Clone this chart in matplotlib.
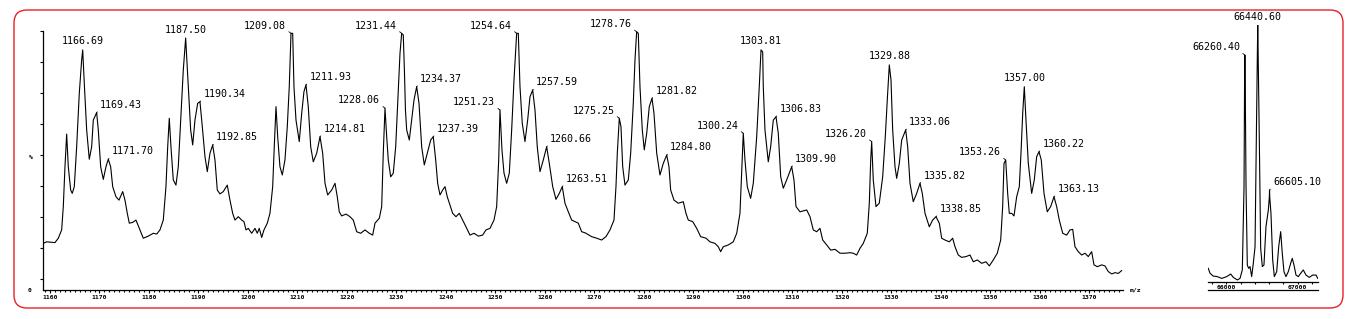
import numpy as np
import matplotlib
matplotlib.use("Agg")
import matplotlib.pyplot as plt
from matplotlib.patches import FancyBboxPatch
from matplotlib.transforms import IdentityTransform
from matplotlib.ticker import MultipleLocator

# espectro m/z
mz = [1158.65, 1159.33, 1161.01, 1161.68, 1162.36, 1162.69, 1163.03, 1163.37, 1163.70, 1164.18,
      1164.50, 1164.91, 1165.39, 1165.92, 1166.40, 1166.61, 1166.93, 1167.41, 1167.94, 1168.42,
      1168.75, 1169.43, 1169.76, 1170.24, 1170.77, 1171.31, 1171.78, 1172.26, 1172.67, 1173.33,
      1173.94, 1174.69, 1175.15, 1175.62, 1176.02, 1176.71, 1177.37, 1178.04, 1178.85, 1179.86,
      1180.87, 1181.56, 1182.22, 1182.89, 1183.43, 1183.78, 1184.10, 1184.44, 1184.91, 1185.45,
      1185.92, 1186.40, 1186.93, 1187.41, 1187.94, 1188.42, 1188.83, 1189.29, 1189.84, 1190.30,
      1190.77, 1191.31, 1191.78, 1192.32, 1192.87, 1193.33, 1193.80, 1194.34, 1195.01, 1195.82,
      1196.36, 1196.91, 1197.37, 1198.04, 1198.73, 1199.19, 1199.60, 1200.06, 1200.75, 1201.41,
      1201.88, 1202.28, 1202.77, 1203.23, 1203.90, 1204.44, 1204.99, 1205.31, 1205.66, 1206.00,
      1206.46, 1206.93, 1207.47, 1207.94, 1208.34, 1208.69, 1209.03, 1209.29, 1209.70, 1210.36,
      1210.85, 1211.31, 1211.72, 1212.18, 1212.67, 1213.19, 1213.88, 1214.55, 1215.09, 1215.56,
      1216.10, 1216.91, 1217.58, 1218.04, 1218.44, 1218.93, 1219.80, 1220.61, 1221.27, 1221.96,
      1222.77, 1223.64, 1224.51, 1225.19, 1225.66, 1226.53, 1227.01, 1227.33, 1227.68, 1228.02,
      1228.34, 1228.83, 1229.35, 1229.84, 1230.24, 1230.71, 1231.05, 1231.37, 1231.60, 1231.81,
      1232.06, 1232.59, 1233.07, 1233.54, 1234.08, 1234.55, 1235.09, 1235.62, 1236.22, 1236.91,
      1237.43, 1237.92, 1238.32, 1238.79, 1239.33, 1239.80, 1240.26, 1240.81, 1241.35, 1242.02,
      1242.69, 1243.37, 1244.04, 1244.85, 1245.66, 1246.53, 1247.41, 1248.08, 1248.89, 1249.70,
      1250.24, 1250.65, 1250.91, 1251.31, 1251.72, 1252.26, 1252.79, 1253.27, 1253.74, 1254.28,
      1254.61, 1254.95, 1255.41, 1255.96, 1256.50, 1256.97, 1257.51, 1257.98, 1258.44, 1258.99,
      1259.66, 1260.34, 1260.87, 1261.56, 1262.22, 1262.89, 1263.49, 1264.04, 1264.71, 1265.39,
      1266.06, 1266.73, 1267.41, 1268.08, 1269.43, 1270.44, 1271.45, 1272.32, 1273.13, 1273.94,
      1274.34, 1274.61, 1275.01, 1275.35, 1275.70, 1276.16, 1276.83, 1277.31, 1277.84, 1278.18,
      1278.52, 1278.85, 1279.19, 1279.66, 1280.06, 1280.55, 1281.07, 1281.62, 1282.02, 1282.57,
      1283.23, 1283.90, 1284.59, 1285.05, 1285.39, 1286.06, 1286.93, 1287.94, 1288.48, 1288.95,
      1289.84, 1290.65, 1291.45, 1292.53, 1293.33, 1294.34, 1295.01, 1295.49, 1296.02, 1297.03,
      1298.04, 1298.73, 1299.39, 1299.74, 1300.06, 1300.40, 1300.87, 1301.55, 1302.08, 1302.77,
      1303.29, 1303.64, 1303.98, 1304.10, 1304.44, 1305.11, 1305.59, 1306.12, 1306.67, 1307.13,
      1307.62, 1308.14, 1308.83, 1309.84, 1310.30, 1310.71, 1311.52, 1312.87, 1313.54, 1314.20,
      1314.89, 1315.56, 1316.10, 1316.91, 1317.72, 1318.59, 1319.60, 1320.61, 1321.62, 1322.28,
      1322.97, 1323.64, 1324.30, 1325.11, 1325.52, 1325.80, 1326.00, 1326.32, 1326.87, 1327.53,
      1328.22, 1328.75, 1329.15, 1329.56, 1329.90, 1330.24, 1330.71, 1331.05, 1331.58, 1332.06,
      1332.87, 1333.27, 1333.74, 1334.40, 1335.09, 1335.76, 1336.22, 1336.77, 1337.64, 1338.32,
      1338.99, 1339.66, 1340.14, 1340.81, 1341.68, 1342.36, 1342.83, 1343.49, 1344.18, 1345.05,
      1345.86, 1346.53, 1347.33, 1348.22, 1349.09, 1349.76, 1350.57, 1351.37, 1352.06, 1352.46,
      1352.73, 1353.07, 1353.47, 1353.80, 1354.28, 1354.75, 1355.29, 1355.82, 1356.16, 1356.51,
      1356.83, 1357.17, 1357.64, 1358.32, 1358.85, 1359.33, 1359.80, 1360.26, 1360.81, 1361.47,
      1362.16, 1362.83, 1363.37, 1363.90, 1364.59, 1365.39, 1366.06, 1366.61, 1367.07, 1367.74,
      1368.42, 1369.09, 1369.76, 1370.44, 1370.91, 1371.58, 1372.46, 1373.13, 1373.80, 1374.50,
      1375.15, 1375.82, 1376.50]
intensidade = [18.0, 18.6, 18.3, 20.0, 23.2, 32.2, 47.6, 60.2, 47.6, 38.6,
               37.3, 39.9, 55.3, 75.9, 88.8, 92.7, 79.8, 61.8, 50.5, 55.3,
               65.6, 68.5, 61.8, 47.6, 42.7, 47.6, 50.5, 47.6, 39.9, 36.0,
               34.7, 38.0, 34.7, 29.6, 25.8, 26.1, 27.0, 23.8, 20.0, 20.8,
               21.9, 21.6, 23.2, 27.0, 39.9, 55.3, 66.3, 55.3, 42.5, 40.5,
               47.6, 65.6, 84.9, 97.3, 78.5, 61.8, 56.0, 65.6, 72.1, 72.7,
               63.1, 51.5, 45.7, 52.8, 56.0, 50.2, 38.6, 37.1, 38.0, 40.5,
               34.7, 29.6, 27.0, 28.3, 27.0, 26.4, 23.2, 23.8, 21.9, 23.8,
               21.9, 23.8, 20.3, 23.2, 25.8, 29.6, 39.9, 55.3, 70.8, 59.2,
               47.6, 44.4, 50.2, 63.1, 78.5, 99.1, 99.1, 78.5, 65.6, 57.3,
               68.2, 76.6, 79.2, 70.8, 55.3, 49.5, 52.8, 59.2, 52.8, 41.2,
               36.7, 38.6, 41.2, 36.0, 30.2, 28.6, 29.3, 28.3, 27.0, 22.5,
               21.9, 23.2, 21.9, 21.2, 25.8, 27.7, 32.2, 52.8, 70.2, 59.2,
               50.2, 43.7, 45.1, 55.3, 72.1, 91.4, 99.1, 98.5, 84.9, 69.5,
               61.8, 57.9, 65.6, 73.4, 78.5, 72.1, 55.3, 48.3, 52.8, 57.9,
               59.2, 50.2, 41.2, 36.7, 38.6, 39.9, 36.0, 32.8, 29.6, 28.3,
               29.6, 27.0, 24.4, 21.2, 21.9, 20.8, 21.2, 23.2, 23.8, 27.0,
               32.2, 50.2, 69.5, 54.1, 45.1, 41.2, 45.1, 61.8, 81.1, 99.1,
               99.1, 78.5, 64.4, 57.3, 65.6, 74.6, 77.2, 69.5, 55.3, 45.7,
               50.2, 55.3, 48.9, 39.9, 35.0, 37.3, 39.9, 33.5, 30.2, 27.0,
               26.4, 25.8, 22.5, 22.1, 20.6, 20.0, 19.3, 20.6, 23.2, 27.0,
               39.9, 52.8, 66.3, 63.1, 47.6, 40.5, 42.5, 52.8, 72.1, 88.8,
               99.7, 99.1, 78.5, 61.8, 54.1, 60.5, 70.8, 74.0, 68.2, 52.8,
               44.4, 48.9, 52.1, 47.6, 38.6, 34.7, 33.5, 34.1, 29.6, 27.0,
               26.4, 23.8, 20.6, 20.0, 18.6, 18.0, 16.7, 14.8, 16.7, 17.4,
               18.6, 21.9, 29.6, 46.3, 60.5, 50.2, 39.9, 35.4, 41.2, 59.2,
               78.5, 92.7, 91.9, 78.5, 61.8, 49.5, 55.3, 65.6, 66.9, 60.5,
               43.7, 39.3, 42.5, 47.6, 42.5, 32.2, 30.2, 30.9, 28.3, 23.2,
               22.5, 23.8, 19.3, 17.4, 15.4, 15.7, 14.2, 14.2, 14.4, 14.2,
               13.5, 16.1, 18.0, 21.9, 33.5, 50.2, 57.3, 42.5, 32.2, 33.5,
               43.7, 59.2, 73.4, 86.9, 81.1, 61.8, 47.6, 43.1, 48.9, 57.9,
               61.8, 55.3, 41.2, 34.1, 37.3, 41.2, 37.3, 29.6, 24.4, 27.0,
               28.3, 25.8, 20.0, 19.3, 18.6, 20.0, 16.7, 13.5, 12.6, 12.9,
               13.5, 10.9, 11.6, 10.3, 10.9, 9.3, 11.6, 14.2, 19.3, 32.2,
               48.9, 50.2, 37.3, 29.6, 29.6, 28.6, 36.0, 39.9, 52.8, 68.2,
               78.5, 65.6, 48.9, 37.3, 42.5, 51.5, 53.4, 50.2, 37.3, 30.2,
               32.2, 36.0, 32.2, 27.0, 21.9, 21.2, 23.2, 23.4, 16.7, 14.8,
               13.5, 14.2, 12.9, 14.8, 9.7, 9.0, 9.7, 9.3, 7.1, 6.2,
               6.7, 6.4, 7.5]

# picos rotulados: valor, lado do rotulo (c = centro, r = direita, l = esquerda)
picos = ["1166.69", "1169.43", "1171.70", "1187.50", "1190.34", "1192.85",
         "1209.08", "1211.93", "1214.81", "1228.06", "1231.44", "1234.37",
         "1237.39", "1251.23", "1254.64", "1257.59", "1260.66", "1263.51",
         "1275.25", "1278.76", "1281.82", "1284.80", "1300.24", "1303.81",
         "1306.83", "1309.90", "1326.20", "1329.88", "1333.06", "1335.82",
         "1338.85", "1353.26", "1357.00", "1360.22", "1363.13"]
lados = ["c", "r", "r", "c", "r", "r",
         "l", "r", "r", "l", "l", "r",
         "r", "l", "l", "r", "r", "r",
         "l", "l", "r", "r", "l", "c",
         "r", "r", "l", "c", "r", "r",
         "r", "l", "c", "r", "r"]

# espectro deconvoluido (massa)
massa = [65748, 65772, 65818, 65874, 65936, 66006, 66062, 66098, 66154, 66192,
         66224, 66248, 66256, 66260, 66264, 66276, 66294, 66313, 66332, 66355,
         66378, 66402, 66420, 66436, 66440, 66444, 66462, 66481, 66504, 66527,
         66555, 66588, 66602, 66605, 66608, 66625, 66649, 66672, 66705, 66733,
         66761, 66783, 66807, 66835, 66867, 66901, 66923, 66947, 66975, 67007,
         67041, 67077, 67115, 67161, 67209, 67255, 67280]
int_massa = [5.3, 3.4, 2.3, 2.1, 1.4, 2.1, 3.1, 1.8, 0.8, 1.4,
             4.7, 37.1, 80.0, 88.3, 80.0, 37.1, 6.6, 5.3, 6.0, 2.1,
             7.3, 13.7, 55.3, 92.0, 100.0, 92.0, 55.3, 13.1, 6.0, 6.6,
             21.5, 28.0, 33.0, 35.8, 33.0, 26.7, 8.6, 2.1, 4.0, 13.7,
             19.6, 11.2, 4.0, 2.1, 4.0, 7.3, 9.2, 6.6, 2.7, 2.1,
             3.4, 4.7, 2.7, 1.8, 2.7, 2.7, 1.4]
picos_massa = ["66260.40", "66440.60", "66605.10"]
lados_massa = ["l", "c", "r"]

W, H = 1362, 319
fig = plt.figure(figsize=(W / 100, H / 100), dpi=100)
fonte = "DejaVu Sans Mono"


def px_ax(x0, x1, ytop, ybot):
    return [x0 / W, (H - ybot) / H, (x1 - x0) / W, (ybot - ytop) / H]


def rotular(ax, xs, ys, textos, lados_, janela, tam=7.2):
    xs = np.asarray(xs, float)
    ys = np.asarray(ys, float)
    for t, lado in zip(textos, lados_):
        m = float(t)
        sel = np.abs(xs - m) < janela
        i = np.argmax(np.where(sel, ys, -1))
        xy = (xs[i], ys[i])
        if lado == "c":
            ax.annotate(t, xy, xytext=(0, 2.5), textcoords="offset points",
                        ha="center", va="bottom", fontsize=tam, family=fonte,
                        annotation_clip=False)
        elif lado == "r":
            ax.annotate(t, xy, xytext=(2.5, 2), textcoords="offset points",
                        ha="left", va="bottom", fontsize=tam, family=fonte,
                        annotation_clip=False,
                        arrowprops=dict(arrowstyle="-", lw=0.6, color="black",
                                        shrinkA=0, shrinkB=0, relpos=(0, 0.1)))
        else:
            ax.annotate(t, xy, xytext=(-3.5, 2), textcoords="offset points",
                        ha="right", va="bottom", fontsize=tam, family=fonte,
                        annotation_clip=False,
                        arrowprops=dict(arrowstyle="-", lw=0.6, color="black",
                                        shrinkA=0, shrinkB=0, relpos=(1, 0.1)))


# painel principal
ax = fig.add_axes(px_ax(43, 1123, 31, 290))
ax.plot(mz, intensidade, color="black", lw=0.8)
ax.set_xlim(1158.59, 1376.77)
ax.set_ylim(0, 100)
ax.spines[["top", "right"]].set_visible(False)
ax.spines[["left", "bottom"]].set_linewidth(0.9)
ax.xaxis.set_major_locator(MultipleLocator(10))
ax.xaxis.set_minor_locator(MultipleLocator(1))
ax.set_xticks(np.arange(1160, 1371, 10))
ax.set_yticks(100 - 11.97 * np.arange(9))
ax.set_yticklabels([])
ax.tick_params(axis="x", which="major", length=2.5, width=0.8, pad=1.2,
               labelsize=4.6)
ax.tick_params(axis="x", which="minor", length=1.3, width=0.8)
ax.tick_params(axis="y", length=2.5, width=0.8)
for lb in ax.get_xticklabels():
    lb.set_family(fonte)
    lb.set_fontweight("bold")
ax.text(1.006, 0.0, "m/z", transform=ax.transAxes, fontsize=4.6, family=fonte,
        fontweight="bold", va="center", ha="left")
ax.text(-0.011, 0.51, "%", transform=ax.transAxes, fontsize=4.6, family=fonte,
        fontweight="bold", va="center", ha="center")
ax.text(-0.012, 0.0, "0", transform=ax.transAxes, fontsize=4.6, family=fonte,
        fontweight="bold", va="center", ha="center")
rotular(ax, mz, intensidade, picos, lados, 0.6)

# painel da massa deconvoluida
ax2 = fig.add_axes(px_ax(1208, 1318, 25, 282))
ax2.plot(massa, int_massa, color="black", lw=0.8)
ax2.set_xlim(65744, 67283)
ax2.set_ylim(0, 100)
ax2.spines[["top", "right", "left"]].set_visible(False)
ax2.spines["bottom"].set_linewidth(0.9)
ax2.set_yticks([])
ax2.set_xticks([66000, 67000])
ax2.xaxis.set_minor_locator(MultipleLocator(200))
ax2.tick_params(axis="x", which="major", length=1.5, width=0.8, pad=0.8,
                labelsize=4.6)
ax2.tick_params(axis="x", which="minor", length=1.5, width=0.8)
for lb in ax2.get_xticklabels():
    lb.set_family(fonte)
    lb.set_fontweight("bold")
ax2.plot([0, 1], [-0.031, -0.031], transform=ax2.transAxes, color="black",
         lw=0.9, clip_on=False)
rotular(ax2, massa, int_massa, picos_massa, lados_massa, 10)

# moldura vermelha arredondada
moldura = FancyBboxPatch((14, 11), 1329, 298,
                         boxstyle="round,pad=0,rounding_size=13",
                         transform=IdentityTransform(), fill=False,
                         edgecolor="#e8202a", lw=1.0)
fig.add_artist(moldura)

fig.savefig("out.png", dpi=100)
